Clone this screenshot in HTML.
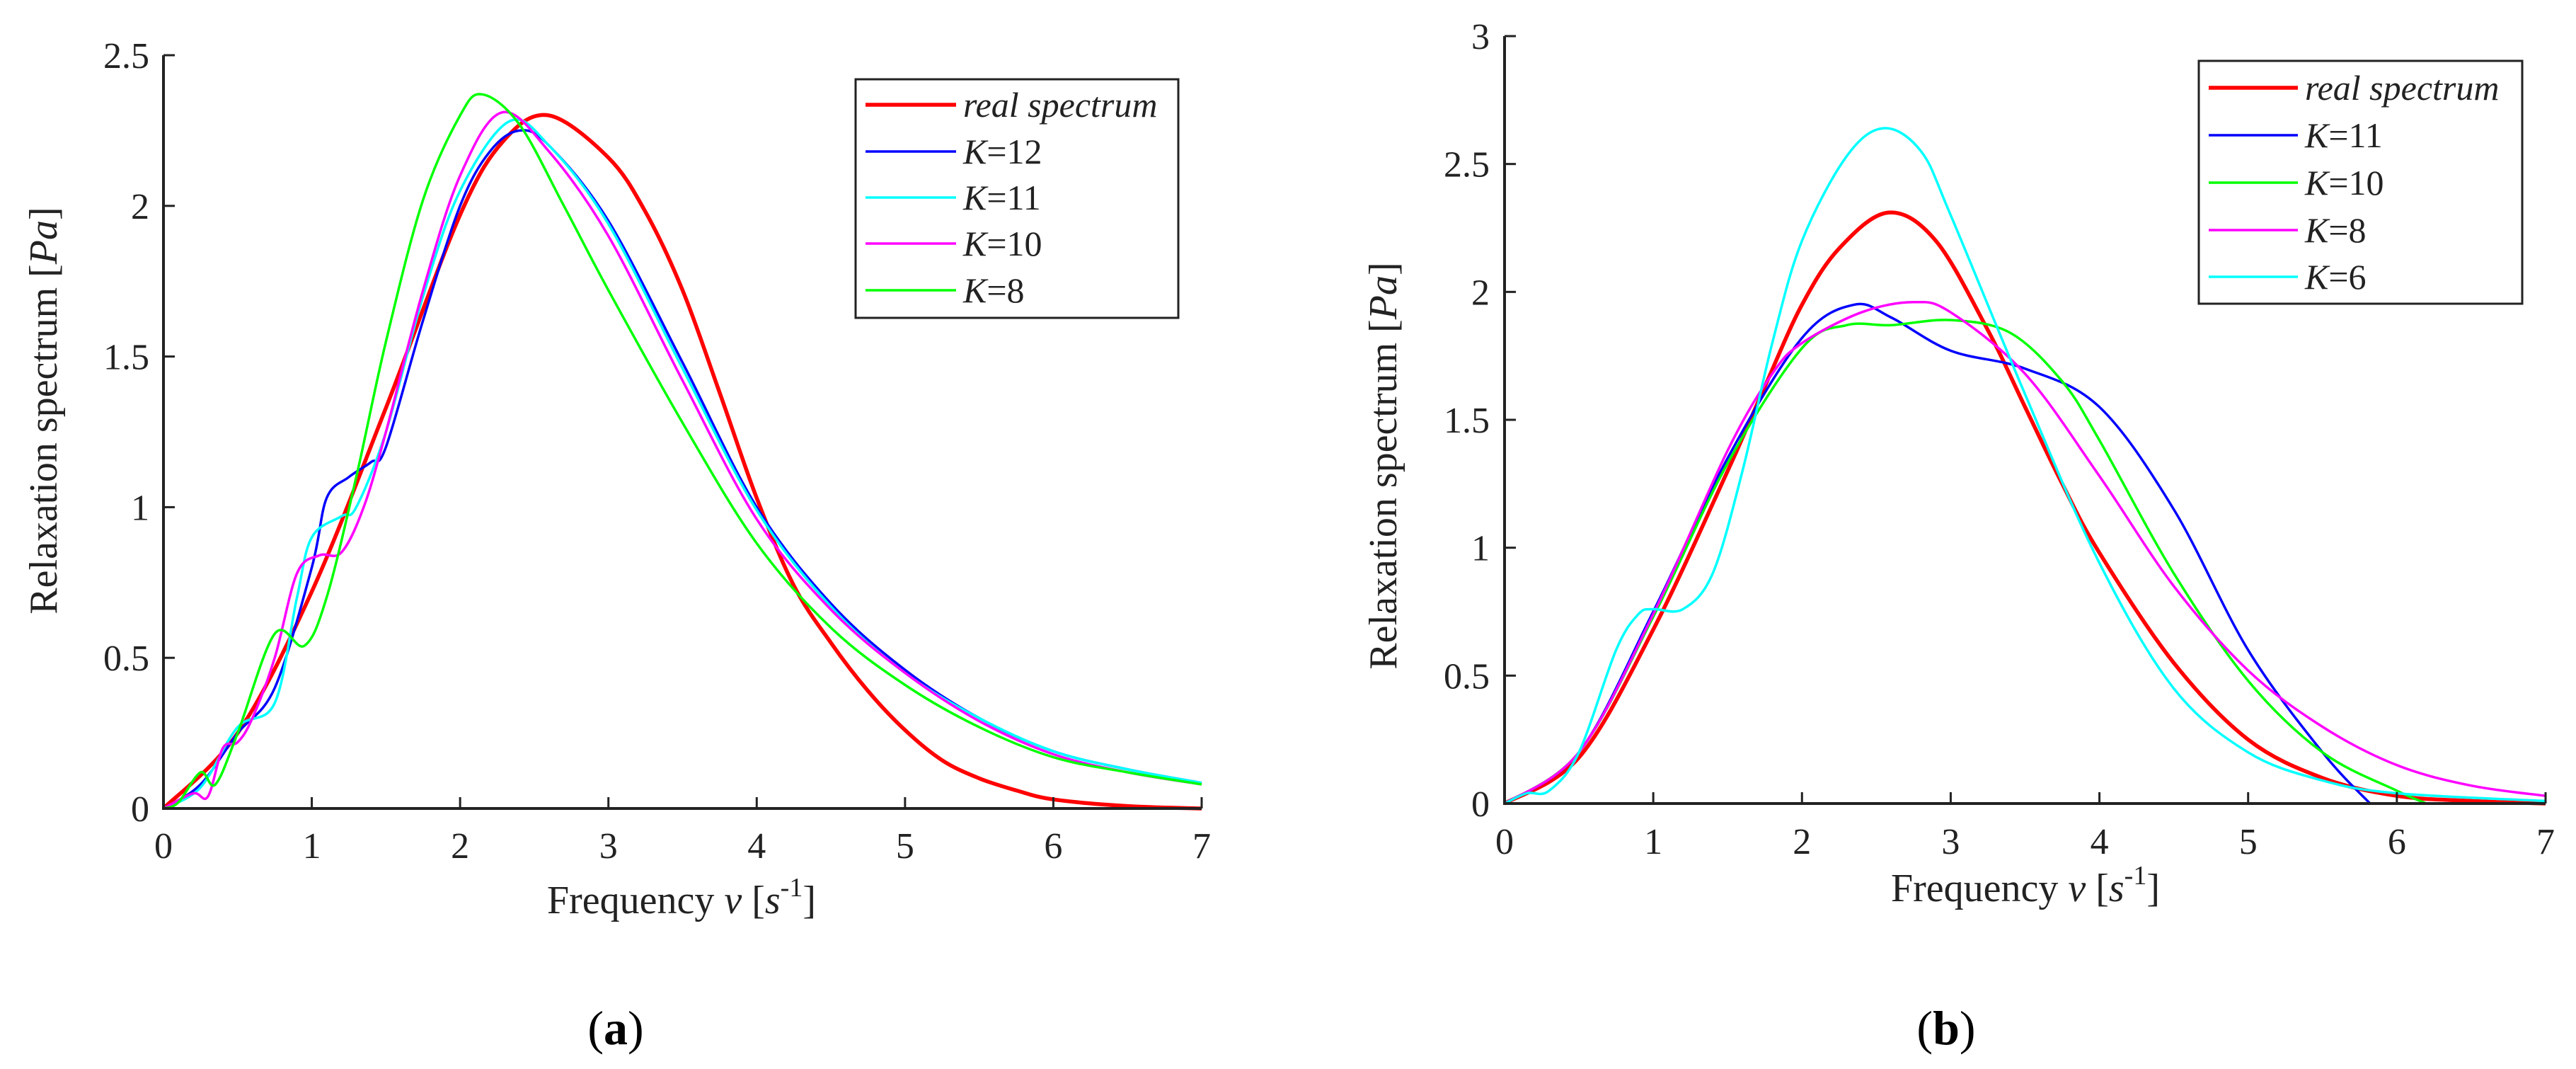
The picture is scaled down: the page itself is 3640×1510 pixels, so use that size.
<!DOCTYPE html>
<html><head><meta charset="utf-8"><style>
html,body{margin:0;padding:0;background:#fff;}
svg{display:block;font-family:"Liberation Serif",serif;}
</style></head><body>
<svg id="fig" width="3640" height="1510" viewBox="0 0 3640 1510" xmlns="http://www.w3.org/2000/svg"></svg>
<script>
// ---------- Panel (a) data ----------
const aRealX = [0,0.5,1,1.5,2,2.3,2.6,3,3.25,3.5,3.75,4,4.25,4.5,4.75,5,5.25,5.5,5.75,6,6.5,7];
const aRealY = [0,0.25,0.72,1.33,1.97,2.22,2.3,2.16,1.98,1.72,1.38,1.03,0.74,0.55,0.39,0.26,0.16,0.1,0.06,0.03,0.008,0];
const aK12X = [0,0.25,0.5,0.75,1,1.1,1.25,1.4,1.5,1.75,2,2.2,2.4,2.6,3,3.5,4,4.5,5,5.5,6,6.5,7];
const aK12Y = [0,0.08,0.25,0.4,0.8,1.03,1.1,1.15,1.2,1.62,2.0,2.18,2.25,2.2,1.95,1.48,1.0,0.68,0.46,0.3,0.19,0.13,0.085];
const aK11X = [0,0.25,0.5,0.75,0.9,1,1.2,1.3,1.5,1.75,2,2.33,2.6,3,3.5,4,4.5,5,5.5,6,6.5,7];
const aK11Y = [0,0.07,0.27,0.35,0.7,0.9,0.97,1.0,1.25,1.7,2.05,2.28,2.2,1.94,1.46,0.99,0.67,0.45,0.3,0.19,0.13,0.085];
const aK10X = [0,0.2,0.3,0.4,0.5,0.6,0.75,0.9,1.05,1.2,1.35,1.5,1.75,2,2.28,2.6,3,3.5,4,4.5,5,5.5,6,6.5,7];
const aK10Y = [0,0.05,0.04,0.2,0.22,0.3,0.5,0.78,0.84,0.85,1.0,1.25,1.72,2.1,2.31,2.18,1.9,1.42,0.96,0.66,0.45,0.29,0.18,0.12,0.08];
const aK8X = [0,0.1,0.25,0.35,0.5,0.75,0.95,1.1,1.3,1.5,1.75,2,2.15,2.4,2.7,3,3.5,4,4.5,5,5.5,6,6.5,7];
const aK8Y = [0,0.02,0.12,0.08,0.25,0.58,0.54,0.7,1.1,1.55,2.02,2.3,2.37,2.27,2.0,1.72,1.28,0.88,0.6,0.41,0.27,0.17,0.12,0.08];
// ---------- Panel (b) data ----------
const bRealX = [0,0.5,1,1.5,1.75,2,2.25,2.58,2.9,3.25,3.5,3.75,4,4.5,5,5.5,6,6.5,7];
const bRealY = [0,0.18,0.68,1.3,1.63,1.95,2.17,2.31,2.2,1.85,1.55,1.25,0.98,0.55,0.25,0.1,0.03,0.01,0];
const bK11X = [0,0.5,1,1.5,2,2.35,2.6,3,3.5,4,4.5,5,5.5,5.82];
const bK11Y = [0,0.2,0.75,1.35,1.82,1.95,1.9,1.77,1.7,1.55,1.15,0.6,0.2,0];
const bK10X = [0,0.5,1,1.5,2,2.3,2.6,3,3.4,3.75,4,4.5,5,5.5,6,6.2];
const bK10Y = [0,0.2,0.73,1.33,1.78,1.87,1.87,1.89,1.84,1.65,1.42,0.9,0.48,0.2,0.05,0];
const bK8X = [0,0.5,1,1.5,1.8,2,2.4,2.75,3,3.5,4,4.5,5,5.5,6,6.5,7];
const bK8Y = [0,0.2,0.74,1.38,1.68,1.8,1.92,1.96,1.92,1.68,1.28,0.85,0.52,0.3,0.15,0.07,0.03];
const bK6X = [0,0.15,0.3,0.5,0.75,0.9,1,1.2,1.4,1.6,1.8,2,2.3,2.55,2.8,3,3.5,4,4.5,5,5.5,6,7];
const bK6Y = [0,0.04,0.05,0.2,0.6,0.74,0.76,0.76,0.9,1.3,1.8,2.2,2.53,2.64,2.55,2.3,1.6,0.94,0.45,0.2,0.09,0.04,0.01];

const xTicks = [0,1,2,3,4,5,6,7];
const aYTicks = [0,0.5,1,1.5,2,2.5];
const aYLabels = ["0","0.5","1","1.5","2","2.5"];
const bYTicks = [0,0.5,1,1.5,2,2.5,3];
const bYLabels = ["0","0.5","1","1.5","2","2.5","3"];
const aLegend = ["real spectrum","K=12","K=11","K=10","K=8"];
const bLegend = ["real spectrum","K=11","K=10","K=8","K=6"];

const NS = "http://www.w3.org/2000/svg";
const svg = document.getElementById('fig');
function mk(tag, attrs, parent){
  const e = document.createElementNS(NS, tag);
  for (const k in attrs) e.setAttribute(k, attrs[k]);
  (parent||svg).appendChild(e);
  return e;
}
function pathFrom(xs, ys, sx, sy){
  const p = xs.map((x,i)=>[sx(x), sy(ys[i])]);
  let d = "M"+p[0][0].toFixed(1)+","+p[0][1].toFixed(1);
  for (let i=0;i<p.length-1;i++){
    const p0=p[Math.max(0,i-1)], p1=p[i], p2=p[i+1], p3=p[Math.min(p.length-1,i+2)];
    const c1x=p1[0]+(p2[0]-p0[0])/6, c1y=p1[1]+(p2[1]-p0[1])/6;
    const c2x=p2[0]-(p3[0]-p1[0])/6, c2y=p2[1]-(p3[1]-p1[1])/6;
    d+=" C"+c1x.toFixed(1)+","+c1y.toFixed(1)+" "+c2x.toFixed(1)+","+c2y.toFixed(1)+" "+p2[0].toFixed(1)+","+p2[1].toFixed(1);
  }
  return d;
}

function panel(cfg){
  const g = mk('g', {});
  
  
  const sx = v => cfg.x0 + (cfg.x1-cfg.x0)*v/7;
  const sy = v => cfg.y0 - (cfg.y0-cfg.y1)*v/cfg.ymax;
  cfg.series.forEach(s=>{
    const p = mk('path', {d:pathFrom(s.x,s.y,sx,sy), fill:'none', stroke:s.c, 'stroke-width':s.w, 'stroke-linejoin':'round'}, g);
    
    
  });
  const ax = mk('path', {d:`M${cfg.x0},${cfg.y1} V${cfg.y0} H${cfg.x1}`, fill:'none', stroke:'#222', 'stroke-width':4}, g);
  
  
  xTicks.forEach(t=>{
    const x = sx(t);
    const tk = mk('line', {x1:x, x2:x, y1:cfg.y0, y2:cfg.y0-16, stroke:'#222','stroke-width':3}, g);
    
    
    const lb = mk('text', {x:x, y:cfg.xlabY, 'font-size':52, 'text-anchor':'middle', fill:'#222'}, g);
    lb.textContent = String(t);
    
    
  });
  cfg.yt.forEach((t,i)=>{
    const y = sy(t);
    const tk = mk('line', {x1:cfg.x0, x2:cfg.x0+16, y1:y, y2:y, stroke:'#222','stroke-width':3}, g);
    
    
    const lb = mk('text', {x:cfg.ylabX, y:y+18, 'font-size':52, 'text-anchor':'end', fill:'#222'}, g);
    lb.textContent = cfg.yl[i];
    
    
  });
  const xt = mk('text', {x:cfg.xtX, y:cfg.xtY, 'font-size':56, 'text-anchor':'middle', fill:'#222'}, g);
  xt.innerHTML = 'Frequency <tspan font-style="italic">v</tspan> [<tspan font-style="italic">s</tspan><tspan dy="-24" font-size="38">-1</tspan><tspan dy="24">]</tspan>';
  
  
  const yt = mk('text', {x:0, y:0, 'font-size':56, 'text-anchor':'middle', fill:'#222', transform:`translate(${cfg.ytX},${cfg.ytY}) rotate(-90)`}, g);
  yt.innerHTML = 'Relaxation spectrum [<tspan font-style="italic">Pa</tspan>]';
  
  
  const L = cfg.leg;
  const lg = mk('g', {}, g);
  
  
  mk('rect', {x:L.x, y:L.y, width:L.w, height:L.h, fill:'#fff', stroke:'#222', 'stroke-width':3}, lg);
  cfg.legNames.forEach((nm,i)=>{
    const y = L.rows[i];
    const s = cfg.series[i];
    const e = mk('g', {}, lg);
    
    
    mk('line', {x1:L.lx1, x2:L.lx2, y1:y, y2:y, stroke:s.c, 'stroke-width':s.w}, e);
    const t = mk('text', {x:L.tx, y:y+17, 'font-size':50, fill:'#222'}, e);
    if (nm.startsWith('K')) t.innerHTML = '<tspan font-style="italic">K</tspan>' + nm.slice(1);
    else { t.setAttribute('font-style','italic'); t.textContent = nm; }
  });
  const pl = mk('text', {x:cfg.plX, y:1475, 'font-size':68, 'text-anchor':'middle', fill:'#000'}, g);
  pl.innerHTML = '(<tspan font-weight="bold">'+cfg.letter+'</tspan>)';
  
  
}

panel({
  name:'panel-a', letter:'a', x0:231, x1:1698, y0:1142, y1:78, ymax:2.5,
  yt:aYTicks, yl:aYLabels, xlabY:1212, ylabX:211, xtX:963, xtY:1290, ytX:80, ytY:580, plX:870,
  series:[
    {n:'series-real-spectrum', x:aRealX, y:aRealY, c:'#ff0000', w:5.5},
    {n:'series-k12', x:aK12X, y:aK12Y, c:'#0000ff', w:3.5},
    {n:'series-k11', x:aK11X, y:aK11Y, c:'#00ffff', w:3.5},
    {n:'series-k10', x:aK10X, y:aK10Y, c:'#ff00ff', w:3.5},
    {n:'series-k8', x:aK8X, y:aK8Y, c:'#00ff00', w:3.5}
  ],
  legNames:aLegend,
  leg:{x:1209, y:112, w:456, h:337, rows:[148,214,279,344,410], lx1:1223, lx2:1351, tx:1361}
});
panel({
  name:'panel-b', letter:'b', x0:2126, x1:3597, y0:1135, y1:51, ymax:3,
  yt:bYTicks, yl:bYLabels, xlabY:1206, ylabX:2105, xtX:2862, xtY:1273, ytX:1973, ytY:658, plX:2750,
  series:[
    {n:'series-real-spectrum', x:bRealX, y:bRealY, c:'#ff0000', w:5.5},
    {n:'series-k11', x:bK11X, y:bK11Y, c:'#0000ff', w:3.5},
    {n:'series-k10', x:bK10X, y:bK10Y, c:'#00ff00', w:3.5},
    {n:'series-k8', x:bK8X, y:bK8Y, c:'#ff00ff', w:3.5},
    {n:'series-k6', x:bK6X, y:bK6Y, c:'#00ffff', w:3.5}
  ],
  legNames:bLegend,
  leg:{x:3107, y:86, w:457, h:343, rows:[124,191,258,325,391], lx1:3121, lx2:3247, tx:3257}
});
</script>
</body></html>
